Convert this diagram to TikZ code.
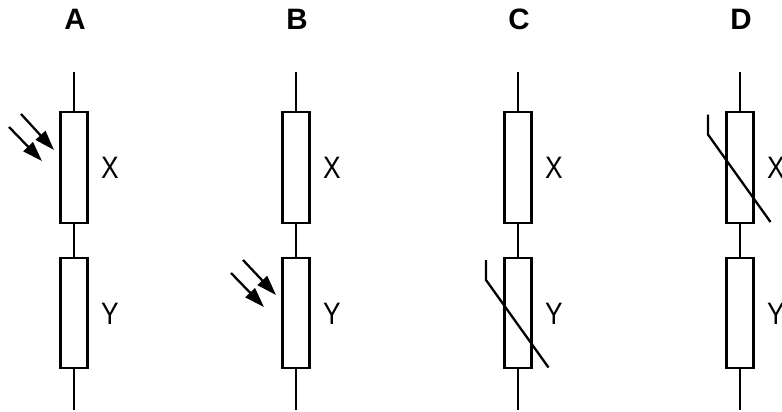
\documentclass[tikz,border=0pt]{standalone}
\usepackage{fontspec}
\setmainfont{Liberation Sans}
\usetikzlibrary{arrows.meta,calc}
\newcommand{\narrowtxt}[1]{\scalebox{0.85}[1]{#1}}
\tikzset{
  wire/.style={line width=2.3pt, black},
  resbox/.style={draw, line width=2.3pt, minimum width=27pt, inner sep=0pt, fill=white},
  lbl/.style={font=\fontsize{31}{33}\selectfont, inner sep=0pt},
  title/.style={font=\fontsize{29.5}{31}\selectfont\bfseries, inner sep=0pt},
  light/.style={line width=2.3pt, -{Triangle[length=20pt,width=13pt]}},
  therm/.style={line width=2.3pt},
}
\begin{document}
\begin{tikzpicture}[x=1pt,y=-1pt]
\useasboundingbox (0,0) rectangle (782,412);
\foreach \c/\cx in {A/74,B/296,C/518,D/740}{
  \node[title] (\c t) at (\cx+1,19.5) {\c};
  \coordinate (\c top) at (\cx,72);
  \coordinate (\c bot) at (\cx,410);
  \node[resbox, minimum height=111pt] (\c X) at (\cx,167.5) {};
  \node[resbox, minimum height=110pt] (\c Y) at (\cx,313) {};
  \draw[wire] (\c top) -- (\c X.north);
  \draw[wire] (\c X.south) -- (\c Y.north);
  \draw[wire] (\c Y.south) -- (\c bot);
  \node[lbl] (\c xl) at (\cx+36,167.5) {\narrowtxt{X}};
  \node[lbl] (\c yl) at (\cx+36,314) {\narrowtxt{Y}};
}
% light arrows A (on X)
\coordinate (a1s) at (21,114);
\coordinate (a1e) at (54,150);
\coordinate (a2s) at (9,127);
\coordinate (a2e) at (42,161);
\draw[light] (a1s) -- (a1e);
\draw[light] (a2s) -- (a2e);
% light arrows B (on Y)
\coordinate (b1s) at (243,260);
\coordinate (b1e) at (276,295);
\coordinate (b2s) at (231,273);
\coordinate (b2e) at (264,307);
\draw[light] (b1s) -- (b1e);
\draw[light] (b2s) -- (b2e);
% thermistor C (on Y)
\draw[therm] ($(CY.center)+(-32,-53)$) -- ($(CY.center)+(-32,-33)$) -- ($(CY.center)+(30.5,54.5)$);
% thermistor D (on X)
\draw[therm] ($(DX.center)+(-32,-53)$) -- ($(DX.center)+(-32,-33)$) -- ($(DX.center)+(30.5,54.5)$);
\end{tikzpicture}
\end{document}
